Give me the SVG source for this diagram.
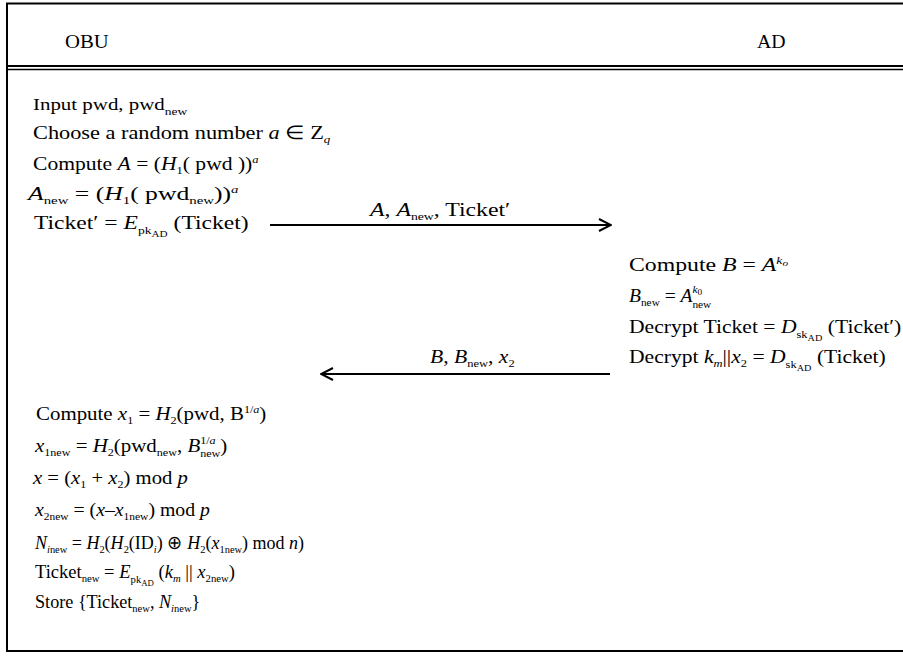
<svg xmlns="http://www.w3.org/2000/svg" width="903" height="657" viewBox="0 0 903 657">
<style>
.t{font-family:"Liberation Serif","Times New Roman",serif;font-size:19px;fill:#000}
.h{font-family:"Liberation Serif","Times New Roman",serif;font-size:18px;fill:#000}
.i{font-style:italic}
.s{font-size:11px}
.ss{font-size:9px}
.frame{stroke:#000;stroke-width:2;fill:none}
.conn{stroke:#000;stroke-width:2;fill:none}
</style>
<defs>
<marker id="arr" viewBox="0 0 14 14" refX="13" refY="7" markerWidth="14" markerHeight="14" markerUnits="userSpaceOnUse" orient="auto">
<path d="M1,1 L13,7 L1,13" fill="none" stroke="#000" stroke-width="2"/>
</marker>
</defs>
<rect width="903" height="657" fill="#fff"/>
<g id="frame">
<path class="frame" d="M903,3.5 H7 V651 H903"/>
<path class="frame" d="M7,66 H903"/>
<path stroke="#000" stroke-width="1.5" d="M7,69.5 H903"/>
</g>
<g id="obu-header"><text class="h" transform="translate(65,48) scale(1.15,1)">OBU</text></g>
<g id="ad-header"><text class="h" transform="translate(757,48) scale(1.1,1)">AD</text></g>

<g id="obu-step1">
<text class="t" transform="translate(33,110) scale(1.23,1)" style="font-size:17px">Input pwd, pwd<tspan class="s" dy="5">new</tspan></text>
<text class="t" transform="translate(33,139) scale(1.175,1)">Choose a random number  <tspan class="i">a</tspan> ∈ Z<tspan class="s i" dy="4">q</tspan></text>
<text class="t" transform="translate(33,170) scale(1.137,1)">Compute  <tspan class="i">A</tspan> = (<tspan class="i">H</tspan><tspan class="s" dy="4">1</tspan><tspan dy="-4">( pwd ))</tspan><tspan class="s i" dy="-7">a</tspan></text>
<text class="t" transform="translate(28,200) scale(1.35,1)"><tspan class="i">A</tspan><tspan class="s" dy="4">new</tspan><tspan dy="-4"> = (</tspan><tspan class="i">H</tspan><tspan class="s" dy="4">1</tspan><tspan dy="-4">( pwd</tspan><tspan class="s" dy="4">new</tspan><tspan dy="-4">))</tspan><tspan class="s i" dy="-7">a</tspan></text>
<text class="t" transform="translate(34,229) scale(1.24,1)">Ticket′ = <tspan class="i">E</tspan><tspan class="s" dy="5">pk</tspan><tspan class="ss" dy="3">AD</tspan><tspan dy="-8"> (Ticket)</tspan></text>
</g>

<g id="ad-step">
<text class="t" transform="translate(629,271) scale(1.25,1)">Compute  <tspan class="i">B</tspan> = <tspan class="i">A</tspan><tspan class="s i" dy="-7">k</tspan><tspan class="ss i" dy="2">o</tspan></text>
<text class="t" transform="translate(629,302) scale(1.03,1)"><tspan class="i">B</tspan><tspan class="s" dy="4">new</tspan><tspan dy="-4"> = </tspan><tspan class="i">A</tspan><tspan class="s i" dy="-9">k</tspan><tspan class="ss" dy="2">0</tspan><tspan class="s" dx="-9.5" dy="13">new</tspan></text>
<text class="t" transform="translate(629,333) scale(1.137,1)">Decrypt Ticket = <tspan class="i">D</tspan><tspan class="s" dy="5">sk</tspan><tspan class="ss" dy="3">AD</tspan><tspan dy="-8"> (Ticket′)</tspan></text>
<text class="t" transform="translate(629,363) scale(1.137,1)">Decrypt <tspan class="i">k</tspan><tspan class="s i" dy="4">m</tspan><tspan dy="-4">||</tspan><tspan class="i">x</tspan><tspan class="s" dy="4">2</tspan><tspan dy="-4"> = </tspan><tspan class="i">D</tspan><tspan class="s" dy="5">sk</tspan><tspan class="ss" dy="3">AD</tspan><tspan dy="-8"> (Ticket)</tspan></text>
</g>

<g id="obu-step2">
<text class="t" transform="translate(36,420) scale(1.1,1)">Compute <tspan class="i">x</tspan><tspan class="s" dy="4">1</tspan><tspan dy="-4"> = </tspan><tspan class="i">H</tspan><tspan class="s" dy="4">2</tspan><tspan dy="-4">(pwd, B</tspan><tspan class="s" dy="-7">1/<tspan class="i">a</tspan></tspan><tspan dy="7">)</tspan></text>
<text class="t" transform="translate(35,452) scale(1.1,1)"><tspan class="i">x</tspan><tspan class="s" dy="4">1new</tspan><tspan dy="-4"> = </tspan><tspan class="i">H</tspan><tspan class="s" dy="4">2</tspan><tspan dy="-4">(pwd</tspan><tspan class="s" dy="4">new</tspan><tspan dy="-4">, </tspan><tspan class="i">B</tspan><tspan class="s" dy="-8">1/<tspan class="i">a</tspan></tspan><tspan class="s" dx="-14" dy="13">new</tspan><tspan dy="-5">)</tspan></text>
<text class="t" transform="translate(33,484) scale(1.09,1)"><tspan class="i">x</tspan> = (<tspan class="i">x</tspan><tspan class="s" dy="4">1</tspan><tspan dy="-4"> + </tspan><tspan class="i">x</tspan><tspan class="s" dy="4">2</tspan><tspan dy="-4">) mod </tspan><tspan class="i">p</tspan></text>
<text class="t" transform="translate(35,516) scale(1.04,1)"><tspan class="i">x</tspan><tspan class="s" dy="4">2new</tspan><tspan dy="-4"> = (</tspan><tspan class="i">x</tspan>–<tspan class="i">x</tspan><tspan class="s" dy="4">1new</tspan><tspan dy="-4">) mod </tspan><tspan class="i">p</tspan></text>
<text class="t" transform="translate(35,549) scale(0.947,1)"><tspan class="i">N</tspan><tspan class="s" dy="4"><tspan class="i">i</tspan>new</tspan><tspan dy="-4"> = </tspan><tspan class="i">H</tspan><tspan class="s" dy="4">2</tspan><tspan dy="-4">(</tspan><tspan class="i">H</tspan><tspan class="s" dy="4">2</tspan><tspan dy="-4">(ID</tspan><tspan class="s i" dy="4">i</tspan><tspan dy="-4">) ⊕ </tspan><tspan class="i">H</tspan><tspan class="s" dy="4">2</tspan><tspan dy="-4">(</tspan><tspan class="i">x</tspan><tspan class="s" dy="4">1new</tspan><tspan dy="-4">) mod </tspan><tspan class="i">n</tspan>)</text>
<text class="t" transform="translate(35,578) scale(0.975,1)">Ticket<tspan class="s" dy="4">new</tspan><tspan dy="-4"> = </tspan><tspan class="i">E</tspan><tspan class="s" dy="5">pk</tspan><tspan class="ss" dy="3">AD</tspan><tspan dy="-8"> (</tspan><tspan class="i">k</tspan><tspan class="s i" dy="4">m</tspan><tspan dy="-4"> || </tspan><tspan class="i">x</tspan><tspan class="s" dy="4">2new</tspan><tspan dy="-4">)</tspan></text>
<text class="t" transform="translate(35,608) scale(0.957,1)">Store {Ticket<tspan class="s" dy="4">new</tspan><tspan dy="-4">, </tspan><tspan class="i">N</tspan><tspan class="s" dy="4"><tspan class="i">i</tspan>new</tspan><tspan dy="-4">}</tspan></text>
</g>

<g id="connectors">
<line class="conn" x1="270" y1="225" x2="611" y2="225" marker-end="url(#arr)"/>
<line class="conn" x1="610" y1="374" x2="321" y2="374" marker-end="url(#arr)"/>
<text class="t" transform="translate(370,216) scale(1.25,1)"><tspan class="i">A</tspan>, <tspan class="i">A</tspan><tspan class="s" dy="4">new</tspan><tspan dy="-4">, Ticket′</tspan></text>
<text class="t" transform="translate(430,363) scale(1.137,1)"><tspan class="i">B</tspan>, <tspan class="i">B</tspan><tspan class="s" dy="4">new</tspan><tspan dy="-4">, </tspan><tspan class="i">x</tspan><tspan class="s" dy="4">2</tspan></text>
</g>
</svg>
